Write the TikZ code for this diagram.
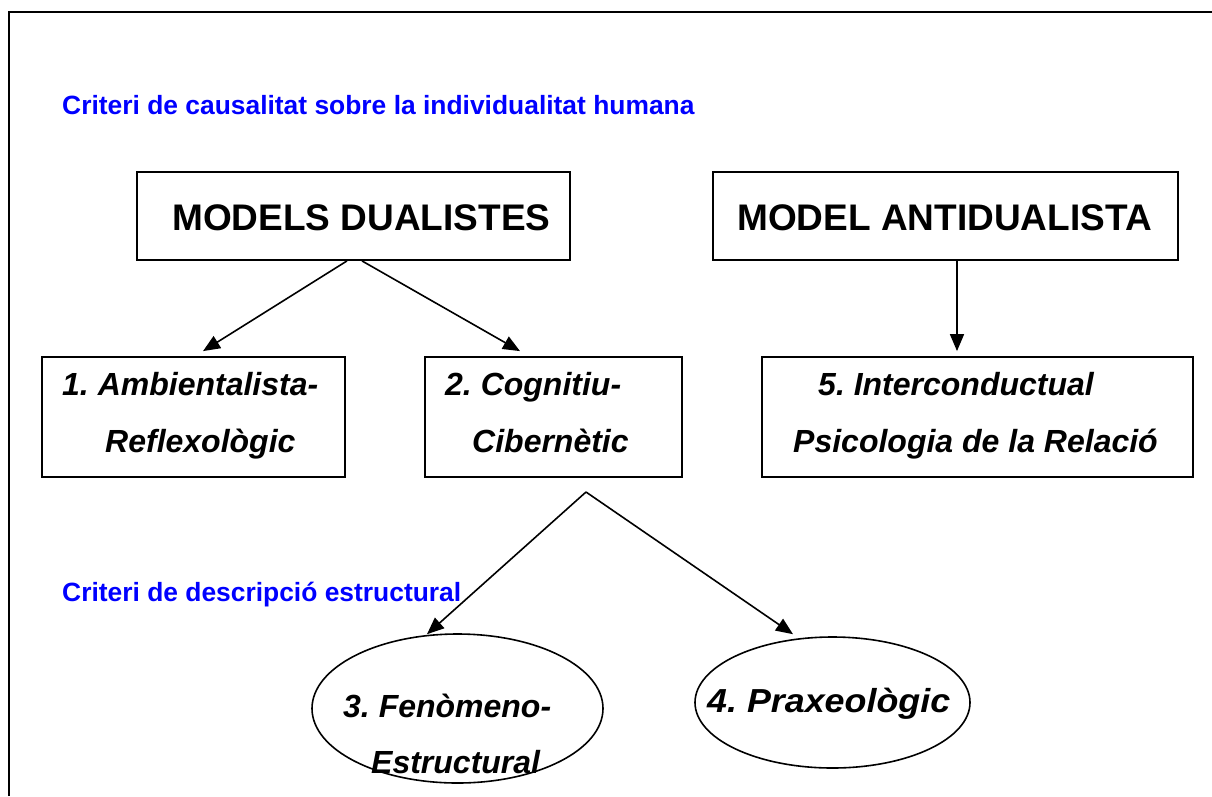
\documentclass[tikz,border=0pt]{standalone}
\usepackage{fontspec}
\usepackage{graphicx}
\setmainfont{Liberation Sans}
\usetikzlibrary{shapes.geometric,arrows.meta}
\frenchspacing
\tikzset{
  boxshape/.style={draw, line width=1.8pt, rectangle, inner sep=0pt},
  ellshape/.style={draw, line width=1.6pt, ellipse, inner sep=0pt},
  arr/.style={line width=1.6pt, -{Triangle[length=17pt,width=14pt]}},
  titletxt/.style={text=blue, inner sep=0pt, anchor=base west, font=\bfseries\fontsize{26.4}{30}\selectfont},
  bigtxt/.style={inner sep=0pt, anchor=base west, font=\bfseries\fontsize{37}{40}\selectfont},
  lbltxt/.style={inner sep=0pt, anchor=base west, font=\bfseries\itshape\fontsize{32}{36}\selectfont},
}
\begin{document}
\begin{tikzpicture}[x=1pt,y=-1pt]
\useasboundingbox (0,0) rectangle (1212,796);
% outer frame (cropped)
\draw[line width=2.2pt] (9,796) -- (9,12) -- (1212,12);

% titles
\node[titletxt] (t1) at (62,114) {Criteri de causalitat sobre la individualitat humana};
\node[titletxt] (t2) at (62,601) {Criteri de descripció estructural};

% top boxes
\node[boxshape, minimum width=433pt, minimum height=88pt] (md) at (353.5,216) {};
\node[bigtxt] (mdt) at (172,230) {MODELS DUALISTES};
\node[boxshape, minimum width=465pt, minimum height=88pt] (ma) at (945.5,216) {};
\node[bigtxt] (mat) at (737,230) {MODEL ANTIDUALISTA};

% second row boxes
\node[boxshape, minimum width=303pt, minimum height=120pt] (b1) at (193.5,417) {};
\node[lbltxt] (b1a) at (62,395) {1. Ambientalista-};
\node[lbltxt] (b1b) at (105,452) {Reflexològic};

\node[boxshape, minimum width=257pt, minimum height=120pt] (b2) at (553.5,417) {};
\node[lbltxt] (b2a) at (445,395) {2. Cognitiu-};
\node[lbltxt] (b2b) at (472,452) {Cibernètic};

\node[boxshape, minimum width=431pt, minimum height=120pt] (b5) at (977.5,417) {};
\node[lbltxt] (b5a) at (818,395) {5. Interconductual};
\node[lbltxt] (b5b) at (793,452) {Psicologia de la Relació};

% ellipses
\node[ellshape, minimum width=291pt, minimum height=149pt] (e3) at (457.5,708.5) {};
\node[lbltxt] (e3a) at (343,717) {3. Fenòmeno-};
\node[lbltxt] (e3b) at (371,773) {Estructural};

\node[ellshape, minimum width=275pt, minimum height=131pt] (e4) at (832.5,702.5) {};
\node[lbltxt] (e4a) at (707,712) {\scalebox{1.12}[1.04]{4. Praxeològic}};

% connectors
\draw[arr] ([xshift=-6.5pt]md.south) -- ([xshift=9.5pt,yshift=5pt]b1.north);
\draw[arr] ([xshift=8.5pt]md.south) -- ([xshift=-33.5pt,yshift=5pt]b2.north);
\draw[arr] ([xshift=11.5pt]ma.south) -- ([xshift=-20.5pt,yshift=5pt]b5.north);

\coordinate (apex) at (586,492);
\draw[arr] (apex) -- ([xshift=-30.5pt,yshift=-1pt]e3.north);
\draw[arr] (apex) -- ([xshift=-39.5pt,yshift=2pt]e4.north);
\end{tikzpicture}
\end{document}
